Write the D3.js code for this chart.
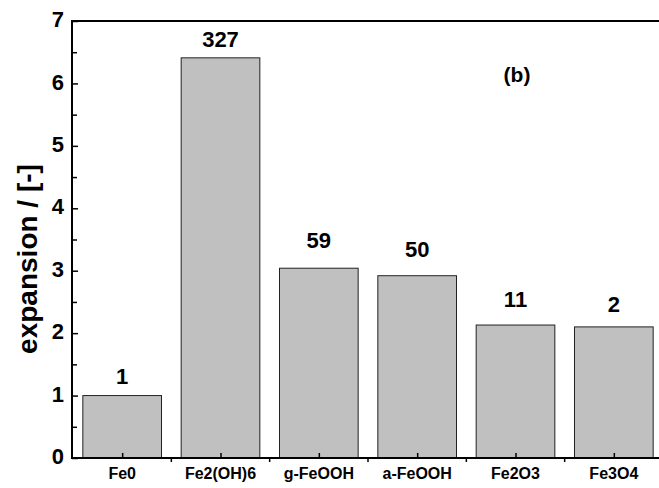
<!DOCTYPE html>
<html><head><meta charset="utf-8">
<script src="https://cdn.jsdelivr.net/npm/d3@7"></script>
<style>body{margin:0;background:#fff}svg{display:block}text{font-family:Arial,"Liberation Sans",sans-serif;font-weight:bold}</style>
</head><body><div id="chart"></div>
<script>
const categories = ["Fe0","Fe2(OH)6","g-FeOOH","a-FeOOH","Fe2O3","Fe3O4"];
const expansion = [1.0, 6.41, 3.04, 2.92, 2.13, 2.10];
const barLabels = ["1","327","59","50","11","2"];
const labelY = [1.19, 6.58, 3.36, 3.22, 2.42, 2.34];
const yTicks = [0,1,2,3,4,5,6,7];
const yMinorTicks = [0.5,1.5,2.5,3.5,4.5,5.5,6.5];
const yTitle = "expansion / [-]";
const panelLabel = "(b)";

const W = 659, H = 488;
const m = {left:72, top:21, bottom:458, right:663};
const svg = d3.select("#chart").append("svg").attr("width",W).attr("height",H);

const x = d3.scaleBand().domain(categories).range([73, m.right]).paddingInner(0.2).paddingOuter(0.1);
const y = d3.scaleLinear().domain([0,7]).range([m.bottom, m.top]);

// bars
svg.selectAll("rect.bar").data(categories).enter().append("rect")
  .attr("class","bar")
  .attr("x", d => x(d)).attr("width", x.bandwidth())
  .attr("y", (d,i) => y(expansion[i])).attr("height", (d,i) => y(0) - y(expansion[i]))
  .attr("fill","#c0c0c0").attr("stroke","#222").attr("stroke-width",1);

// value labels
svg.selectAll("text.val").data(categories).enter().append("text")
  .attr("x", d => x(d) + x.bandwidth()/2).attr("y", (d,i) => y(labelY[i]))
  .attr("text-anchor","middle").attr("font-size",22).attr("fill","#000")
  .text((d,i) => barLabels[i]);

// y axis
const yAxis = d3.axisRight(y).tickValues(yTicks).tickSize(6).tickFormat("");
const gy = svg.append("g").attr("transform",`translate(${m.left},0)`).call(yAxis);
gy.select(".domain").remove();
gy.selectAll(".tick line").attr("stroke","#000").attr("stroke-width",1.5);
const yAxisMinor = d3.axisRight(y).tickValues(yMinorTicks).tickSize(5).tickFormat("");
const gym = svg.append("g").attr("transform",`translate(${m.left},0)`).call(yAxisMinor);
gym.select(".domain").remove();
gym.selectAll(".tick line").attr("stroke","#000").attr("stroke-width",1.5);

svg.selectAll("text.ytl").data(yTicks).enter().append("text")
  .attr("x", 64).attr("y", d => y(d)).attr("dy","0.28em")
  .attr("text-anchor","end").attr("font-size",22).text(d => d);

// x axis ticks: inward at centers, outward at boundaries
const xc = d3.axisTop(d3.scalePoint().domain(categories).range([x(categories[0])+x.bandwidth()/2, x(categories[5])+x.bandwidth()/2]))
  .tickSize(5).tickFormat("");
const gx = svg.append("g").attr("transform",`translate(0,${m.bottom})`).call(xc);
gx.select(".domain").remove();
gx.selectAll(".tick line").attr("stroke","#000").attr("stroke-width",1.5);

const bounds = categories.slice(1).map(d => x(d) - x.step()*x.paddingInner()/2);
svg.selectAll("line.xb").data(bounds).enter().append("line")
  .attr("x1", d=>d).attr("x2", d=>d).attr("y1", m.bottom).attr("y2", m.bottom+4)
  .attr("stroke","#000").attr("stroke-width",1.5);

svg.selectAll("text.xtl").data(categories).enter().append("text")
  .attr("x", d => x(d) + x.bandwidth()/2).attr("y", 479)
  .attr("text-anchor","middle").attr("font-size",16).text(d => d);

// frame lines
svg.append("line").attr("x1",m.left).attr("x2",m.left).attr("y1",m.top-1).attr("y2",m.bottom+1).attr("stroke","#000").attr("stroke-width",2);
svg.append("line").attr("x1",m.left-1).attr("x2",W).attr("y1",m.bottom).attr("y2",m.bottom).attr("stroke","#000").attr("stroke-width",2);
svg.append("line").attr("x1",m.left-1).attr("x2",W).attr("y1",m.top).attr("y2",m.top).attr("stroke","#000").attr("stroke-width",2);

// y title
svg.append("text").attr("transform","translate(37,259) rotate(-90)")
  .attr("text-anchor","middle").attr("font-size",28).text(yTitle);

// panel label
svg.append("text").attr("x",517).attr("y",y(6.02)).attr("text-anchor","middle").attr("font-size",21).text(panelLabel);
</script></body></html>
